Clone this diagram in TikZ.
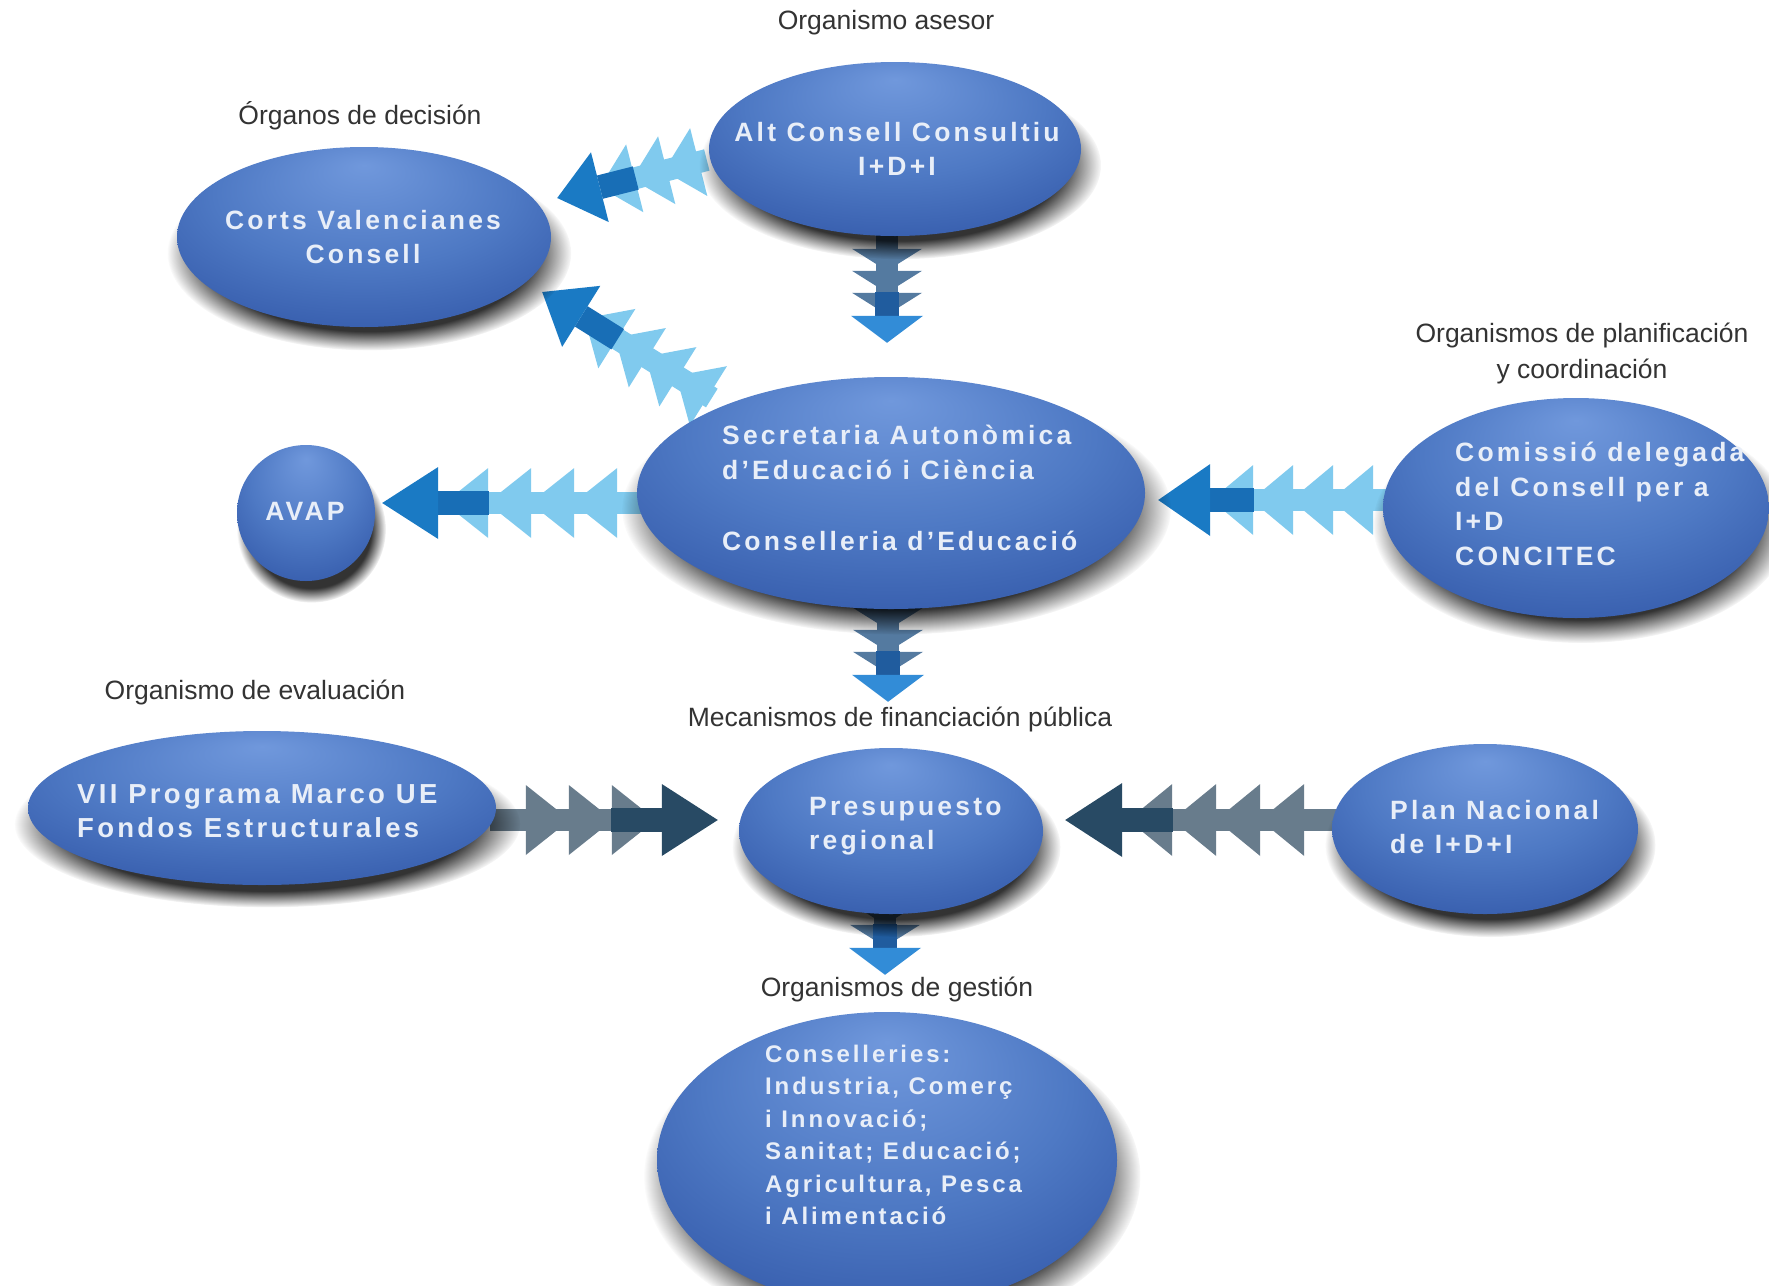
\documentclass[tikz,border=0pt]{standalone}
\usepackage{fontspec}
\setmainfont{Liberation Sans}
\newfontfamily\ellfont[LetterSpace=12]{Liberation Sans}
\usetikzlibrary{shapes.geometric,calc,shadows,fadings}
\definecolor{eA}{RGB}{112,152,220}
\definecolor{eB}{RGB}{78,121,196}
\definecolor{eC}{RGB}{58,97,176}
\definecolor{eD}{RGB}{30,54,126}
\definecolor{eE}{RGB}{10,18,60}
\definecolor{etxt}{RGB}{232,238,248}
\definecolor{cad}{RGB}{26,122,196}
\definecolor{cas}{RGB}{24,110,182}
\definecolor{cal}{RGB}{128,202,238}
\definecolor{cbd}{RGB}{40,74,100}
\definecolor{cbs}{RGB}{40,74,100}
\definecolor{cbl}{RGB}{104,124,140}
\definecolor{ccd}{RGB}{50,140,215}
\definecolor{ccs}{RGB}{32,92,158}
\definecolor{ccl}{RGB}{84,122,160}
\pgfdeclareradialshading{eball}{\pgfpoint{0bp}{20bp}}{color(0bp)=(eA); color(20bp)=(eB); color(32bp)=(eC); color(42bp)=(eD); color(50bp)=(eE)}
\pgfdeclarelayer{bg}
\pgfdeclarelayer{arrows}
\pgfsetlayers{bg,arrows,main}
% #1 from, #2 tip, #3 head length, #4 head half height, #5 dark end,
% #6 light triangle length, #7 spacing, #8 count, #9 colour scheme
\newcommand\chevarrow[9]{%
  \path let \p1=($(#2)-(#1)$), \n1={atan2(\y1,\x1)}, \n2={veclen(\x1,\y1)} in \pgfextra{\xdef\chang{\n1}\xdef\chlen{\n2}};
  \begin{scope}[shift={(#2)}, rotate=\chang]
    \fill[#9l] (-#5,-11) rectangle (-\chlen,11);
    \foreach \k in {1,...,#8}{%
      \pgfmathsetmacro\chb{#5+(\k-1)*#7}%
      \fill[#9l] (-\chb,-#4+1) -- (-\chb,#4-1) -- ({-\chb+#6},0) -- cycle;}
    \fill[#9s] (-#3,-12) rectangle ({-#5-1},12);
    \fill[#9d] (0,0) -- (-#3,#4) -- (-#3,-#4) -- cycle;
  \end{scope}}
\tikzset{
  ell/.style={ellipse, inner sep=0pt, shading=eball,
    general shadow={fill=black, opacity=0.8, shadow scale=1.08,
      shadow xshift=5pt, shadow yshift=-15pt,
      path fading={circle with fuzzy edge 20 percent}}},
  etext/.style={text=etxt, font=\ellfont\bfseries\fontsize{26.5}{34.5}\selectfont, inner sep=0pt},
  lab/.style={text=black!80, font=\fontsize{26.5}{36}\selectfont, align=center, inner sep=0pt}
}
\begin{document}
\begin{tikzpicture}[x=1pt,y=-1pt]
\useasboundingbox (0,0) rectangle (1769,1285);
\begin{pgfonlayer}{bg}
\fill[white] (0,0) rectangle (1769,1285);
\end{pgfonlayer}

% ellipses
\node[ell, minimum width=372pt, minimum height=174pt] (alt) at (895,149) {};
\node[ell, minimum width=374pt, minimum height=180pt] (corts) at (364,237) {};
\node[ell, minimum width=138pt, minimum height=136pt] (avap) at (306,513) {};
\node[ell, minimum width=508pt, minimum height=232pt] (sec) at (891,493) {};
\node[ell, minimum width=386pt, minimum height=220pt] (com) at (1576,508) {};
\node[ell, minimum width=468pt, minimum height=154pt] (vii) at (262,808) {};
\node[ell, minimum width=304pt, minimum height=166pt] (pres) at (891,831) {};
\node[ell, minimum width=306pt, minimum height=170pt] (plan) at (1485,829) {};
\node[ell, minimum width=460pt, minimum height=296pt] (cons) at (887,1160) {};

% texts in ellipses
\node[etext, align=center] (altT) at (897,149) {Alt Consell Consultiu\\I+D+I};
\node[etext, align=center] (cortsT) at (363,237) {Corts Valencianes\\Consell};
\node[etext, align=center] (avapT) at (305,511) {AVAP};
\node[etext, align=left, anchor=west] (secT) at (722,488) {Secretaria Autonòmica\\d’Educació i Ciència\\[37pt]Conselleria d’Educació};
\node[etext, align=left, anchor=west] (comT) at (1455,504) {Comissió delegada\\del Consell per a\\I+D\\CONCITEC};
\node[etext, align=left, anchor=west, font=\ellfont\bfseries\fontsize{27.5}{34.5}\selectfont] (viiT) at (77,811) {VII Programa Marco UE\\Fondos Estructurales};
\node[etext, align=left, anchor=west] (presT) at (809,826) {Presupuesto\\regional};
\node[etext, align=left, anchor=west] (planT) at (1390,827) {Plan Nacional\\de I+D+I};
\node[etext, align=left, anchor=west, font=\ellfont\bfseries\fontsize{24}{32.5}\selectfont] (consT) at (765,1135) {Conselleries:\\Industria, Comerç\\i Innovació;\\Sanitat; Educació;\\Agricultura, Pesca\\i Alimentació};

% labels
\node[lab] (l1) at (886,23) {Organismo asesor};
\node[lab] (l2) at (360,116) {Órganos de decisión};
\node[lab] (l3) at (1582,353) {Organismos de planificación\\y coordinación};
\node[lab] (l4) at (255,692) {Organismo de evaluación};
\node[lab] (l5) at (900,719) {Mecanismos de financiación pública};
\node[lab] (l6) at (897,989) {Organismos de gestión};

% connector end points
\coordinate (a1s) at ($(alt.west)+(-2,11)$);
\coordinate (a1t) at ($(corts.east)+(6,-39)$);
\coordinate (a2s) at ($(sec.west)+(75,-95)$);
\coordinate (a2t) at ($(corts.east)+(-9,55)$);
\coordinate (a3s) at ($(sec.west)+(13,10)$);
\coordinate (a3t) at ($(avap.east)+(7,-10)$);
\coordinate (a4s) at ($(com.west)+(12,-8)$);
\coordinate (a4t) at ($(sec.east)+(13,7)$);
\coordinate (a5s) at ($(vii.east)+(-6,12)$);
\coordinate (a5t) at ($(pres.west)+(-21,-11)$);
\coordinate (a6s) at ($(plan.west)+(8,-9)$);
\coordinate (a6t) at ($(pres.east)+(22,-11)$);
\coordinate (a7s) at ($(alt.south)+(-8,-6)$);
\coordinate (a7t) at ($(sec.north)+(-4,-34)$);
\coordinate (a8s) at ($(sec.south)+(-3,-9)$);
\coordinate (a8t) at ($(pres.north)+(-3,-46)$);
\coordinate (a9s) at ($(pres.south)+(-6,-4)$);
\coordinate (a9t) at ($(cons.north)+(-2,-37)$);

\begin{pgfonlayer}{arrows}
\chevarrow{a1s}{a1t}{44}{36}{80}{36}{33}{3}{ca}
\chevarrow{a2s}{a2t}{46}{36}{88}{38}{36}{4}{ca}
\chevarrow{a3s}{a3t}{56}{36}{106}{44}{43}{4}{ca}
\chevarrow{a4s}{a4t}{52}{36}{95}{42}{40}{4}{ca}
\chevarrow{a5s}{a5t}{56}{36}{106}{44}{43}{3}{cb}
\chevarrow{a6s}{a6t}{57}{37}{107}{44}{44}{4}{cb}
\chevarrow{a7s}{a7t}{27}{36}{50}{22}{22}{3}{cc}
\chevarrow{a8s}{a8t}{27}{36}{50}{22}{22}{3}{cc}
\chevarrow{a9s}{a9t}{27}{36}{50}{22}{22}{3}{cc}
\end{pgfonlayer}
\end{tikzpicture}
\end{document}
